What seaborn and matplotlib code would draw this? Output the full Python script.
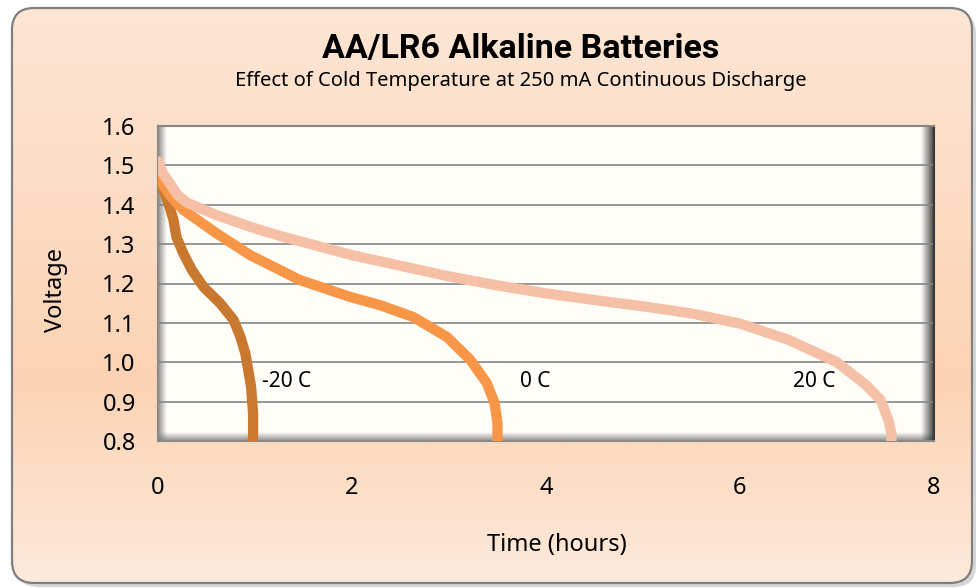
import numpy as np
import pandas as pd
import matplotlib
matplotlib.use("Agg")
import matplotlib.pyplot as plt
from matplotlib import font_manager
from matplotlib.patches import FancyBboxPatch
from matplotlib.colors import to_rgb
import seaborn as sns

# discharge curves: time (hours) / voltage
hours_m20 = [0.0, 0.06, 0.12, 0.16, 0.19, 0.26, 0.35, 0.47, 0.64, 0.78, 0.85, 0.90, 0.93, 0.96,
             0.98, 0.98]
volts_m20 = [1.47, 1.435, 1.394, 1.361, 1.318, 1.277, 1.234, 1.191, 1.15, 1.107, 1.064, 1.023,
             0.98, 0.937, 0.87, 0.80]

hours_0 = [0.0, 0.12, 0.26, 0.60, 0.95, 1.46, 1.98, 2.29, 2.63, 2.98, 3.22, 3.39, 3.47, 3.50,
           3.50]
volts_0 = [1.47, 1.425, 1.387, 1.328, 1.272, 1.209, 1.166, 1.145, 1.115, 1.064, 1.006, 0.947,
           0.896, 0.845, 0.80]

hours_20 = [0.0, 0.05, 0.12, 0.20, 0.30, 0.60, 1.0, 1.3, 2.0, 2.5, 3.0, 3.5, 4.0, 4.5, 5.0, 5.5,
            6.0, 6.5, 7.0, 7.3, 7.45, 7.53, 7.56, 7.56]
volts_20 = [1.51, 1.48, 1.455, 1.425, 1.405, 1.374, 1.34, 1.318, 1.272, 1.245, 1.218, 1.195,
            1.175, 1.158, 1.142, 1.124, 1.098, 1.057, 1.0, 0.942, 0.904, 0.853, 0.82, 0.80]

temps = ["-20 C", "0 C", "20 C"]
colors = ["#C9782F", "#F79646", "#F6C0A6"]
y_ticks = [0.8, 0.9, 1.0, 1.1, 1.2, 1.3, 1.4, 1.5, 1.6]
x_ticks = [0, 2, 4, 6, 8]

df = pd.concat([
    pd.DataFrame({"hours": hours_m20, "volts": volts_m20, "temp": temps[0]}),
    pd.DataFrame({"hours": hours_0, "volts": volts_0, "temp": temps[1]}),
    pd.DataFrame({"hours": hours_20, "volts": volts_20, "temp": temps[2]}),
], ignore_index=True)

sns.set_theme(style="white")
plt.rcParams["font.family"] = ["Noto Sans", "DejaVu Sans"]

# pick a family that really has a bold face for the title
bold_fams = {f.name for f in font_manager.fontManager.ttflist
             if f.weight in (700, "bold")}
title_family = next((f for f in ["Roboto", "Open Sans", "Lato", "Liberation Sans"]
                     if f in bold_fams), "DejaVu Sans")

W, H = 977, 588
fig = plt.figure(figsize=(W / 100, H / 100), dpi=100, facecolor="white")

# --- background frame: shadow, peach gradient, rounded border
bg = fig.add_axes([0, 0, 1, 1], zorder=-10)
bg.set_xlim(0, W)
bg.set_ylim(H, 0)
bg.axis("off")
shadow = FancyBboxPatch((16, 12), 960, 575, boxstyle="round,pad=0,rounding_size=22",
                        facecolor="#D6D6D6", edgecolor="none")
bg.add_patch(shadow)
frame_box = FancyBboxPatch((12, 8), 960, 575, boxstyle="round,pad=0,rounding_size=22",
                           facecolor="none", edgecolor="none")
bg.add_patch(frame_box)
stops = [0.0, 0.65, 1.0]
stop_cols = np.array([to_rgb("#FDE6D4"), to_rgb("#FBD3B4"), to_rgb("#FDEADB")])
pos = np.linspace(0, 1, 300)
grad = np.stack([np.interp(pos, stops, stop_cols[:, i]) for i in range(3)], axis=-1)[:, None, :]
im = bg.imshow(grad, extent=(12, 972, 583, 8), aspect="auto", zorder=1)
im.set_clip_path(frame_box)
border = FancyBboxPatch((12, 8), 960, 575, boxstyle="round,pad=0,rounding_size=22",
                        facecolor="none", edgecolor="#7F7F7F", linewidth=1.6, zorder=3)
bg.add_patch(border)

# --- plot area
ax = fig.add_axes([158 / W, 147 / H, 776 / W, 315 / H])
ax.set_facecolor("#FFFDF7")

# bevel shading on the plot area edges
def edge_shade(ax, extent, direction, color, alpha_max):
    n = 50
    a = np.linspace(alpha_max, 0, n)
    rgba = np.zeros((1, n, 4)) if direction in ("left", "right") else np.zeros((n, 1, 4))
    rgba[..., :3] = to_rgb(color)
    if direction == "left":
        rgba[0, :, 3] = a
    elif direction == "right":
        rgba[0, :, 3] = a[::-1]
    else:  # bottom
        rgba[:, 0, 3] = a[::-1]
    ax.imshow(rgba, extent=extent, transform=ax.transAxes, aspect="auto",
              zorder=0.5, interpolation="bilinear")

edge_shade(ax, (0, 9 / 776, 0, 1), "left", "#7A7A7A", 0.85)
edge_shade(ax, (0, 1, 0, 9 / 315), "bottom", "#7A7A7A", 0.85)
edge_shade(ax, (1 - 13 / 776, 1, 0, 1), "right", "#3A3A3A", 0.95)

for y in y_ticks[1:-1]:
    ax.axhline(y, color="#858585", linewidth=1.2, zorder=1)

sns.lineplot(data=df, x="hours", y="volts", hue="temp", palette=colors, hue_order=temps,
             sort=False, estimator=None, linewidth=7.4, legend=False, ax=ax, zorder=3,
             solid_capstyle="round", solid_joinstyle="round")

ax.text(1.07, 0.95, "-20 C", fontsize=15, ha="left", va="center", color="black", zorder=4)
ax.text(3.73, 0.95, "0 C", fontsize=15, ha="left", va="center", color="black", zorder=4)
ax.text(6.55, 0.95, "20 C", fontsize=15, ha="left", va="center", color="black", zorder=4)

ax.set_xlim(0, 8)
ax.set_ylim(0.8, 1.6)
ax.set_xticks(x_ticks)
ax.set_yticks(y_ticks)
ax.set_xticklabels([str(v) for v in x_ticks])
ax.set_yticklabels([f"{v:.1f}" for v in y_ticks])
ax.tick_params(axis="x", length=0, pad=25, labelsize=17, colors="black")
ax.tick_params(axis="y", length=0, pad=16, labelsize=17, colors="black")
for side in ["left", "bottom"]:
    ax.spines[side].set_color("#8A8A8A")
    ax.spines[side].set_linewidth(1.5)
ax.spines["top"].set_color("#858585")
ax.spines["top"].set_linewidth(1.5)
ax.spines["right"].set_color("#3A3A3A")
ax.spines["right"].set_linewidth(1.5)

ax.set_xlabel("Time (hours)", fontsize=17, color="black")
ax.set_ylabel("Voltage", fontsize=17, color="black")
ax.xaxis.set_label_coords(0.514, -0.292)
ax.yaxis.set_label_coords(-0.116, 0.479)

fig.text(521 / W, 1 - 49 / H, "AA/LR6 Alkaline Batteries", fontsize=24.5, fontweight="bold",
         family=[title_family, "DejaVu Sans"], ha="center", va="center", color="black")
fig.text(521 / W, 1 - 81 / H, "Effect of Cold Temperature at 250 mA Continuous Discharge",
         fontsize=14.5, ha="center", va="center", color="black")

fig.savefig("out.png", dpi=100, facecolor="white")
